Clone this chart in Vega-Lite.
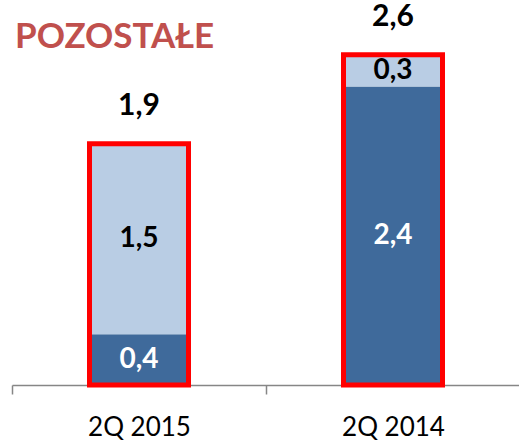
{
  "$schema": "https://vega.github.io/schema/vega-lite/v6.json",
  "width": 508,
  "height": 340,
  "autosize": "none",
  "padding": {"left": 12, "top": 45, "right": 0, "bottom": 56},
  "background": "white",
  "title": {
    "text": "POZOSTAŁE",
    "anchor": "start",
    "frame": "group",
    "offset": 4,
    "dx": 3,
    "dy": 57,
    "font": "Lato",
    "fontSize": 35,
    "fontWeight": "bold",
    "color": "#C0504D"
  },
  "datasets": {
    "segments": [
      {"period": "2Q 2015", "segment": "dark", "order": 1, "value": 0.4, "label": "0,4"},
      {"period": "2Q 2015", "segment": "light", "order": 2, "value": 1.5, "label": "1,5"},
      {"period": "2Q 2014", "segment": "dark", "order": 1, "value": 2.35, "label": "2,4"},
      {"period": "2Q 2014", "segment": "light", "order": 2, "value": 0.25, "label": "0,3"}
    ],
    "totals": [
      {"period": "2Q 2015", "total": 1.9, "label": "1,9"},
      {"period": "2Q 2014", "total": 2.6, "label": "2,6"}
    ]
  },
  "encoding": {
    "x": {
      "field": "period",
      "type": "nominal",
      "sort": ["2Q 2015", "2Q 2014"],
      "scale": {"paddingInner": 0, "paddingOuter": 0},
      "axis": {
        "title": null,
        "labelAngle": 0,
        "domainColor": "#868686",
        "domainWidth": 1.5,
        "tickColor": "#868686",
        "tickWidth": 1.5,
        "tickSize": 9,
        "tickBand": "extent",
        "labelFont": "Lato",
        "labelFontSize": 26,
        "labelColor": "black",
        "labelBaseline": "alphabetic",
        "labelPadding": 41
      }
    }
  },
  "layer": [
    {
      "data": {"name": "segments"},
      "mark": {"type": "bar", "size": 99},
      "encoding": {
        "y": {"field": "value", "type": "quantitative", "stack": "zero", "scale": {"domain": [0, 2.677], "nice": false}, "axis": null},
        "order": {"field": "order", "type": "quantitative"},
        "color": {"field": "segment", "type": "nominal", "scale": {"domain": ["dark", "light"], "range": ["#3F6A9B", "#B9CDE4"]}, "legend": null}
      }
    },
    {
      "data": {"name": "segments"},
      "transform": [
        {"stack": "value", "groupby": ["period"], "sort": [{"field": "order"}], "as": ["v0", "v1"]},
        {"calculate": "(datum.v0 + datum.v1) / 2", "as": "mid"}
      ],
      "mark": {"type": "text", "font": "Lato", "fontSize": 28, "fontWeight": "bold", "baseline": "middle"},
      "encoding": {
        "y": {"field": "mid", "type": "quantitative"},
        "text": {"field": "label"},
        "color": {"condition": {"test": "datum.segment === 'dark'", "value": "white"}, "value": "black"}
      }
    },
    {
      "data": {"name": "totals"},
      "mark": {"type": "bar", "size": 99, "fill": null, "fillOpacity": 0, "stroke": "#FF0000", "strokeWidth": 5},
      "encoding": {
        "y": {"field": "total", "type": "quantitative"}
      }
    },
    {
      "data": {"name": "totals"},
      "mark": {"type": "text", "font": "Lato", "fontSize": 30, "fontWeight": "bold", "baseline": "alphabetic", "dy": -29, "color": "black"},
      "encoding": {
        "y": {"field": "total", "type": "quantitative"},
        "text": {"field": "label"}
      }
    }
  ],
  "config": {
    "view": {"stroke": null},
    "axis": {"grid": false}
  }
}
